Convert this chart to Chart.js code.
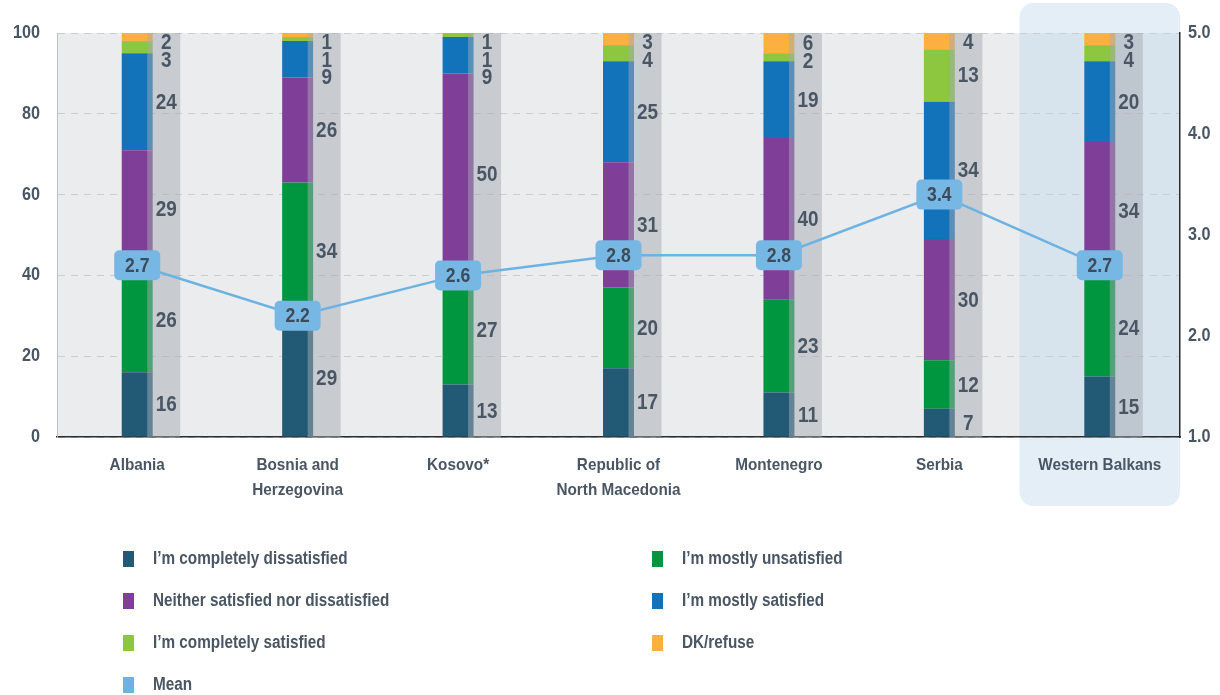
<!DOCTYPE html>
<html>
<head>
<meta charset="utf-8">
<script src="https://cdn.jsdelivr.net/npm/chart.js@4.4.1/dist/chart.umd.min.js"></script>
<style>
  html,body{margin:0;padding:0;background:#fff;}
  #wrap{position:relative;width:1220px;height:695px;}
</style>
</head>
<body>
<div id="wrap"><canvas id="c" width="1220" height="695"></canvas></div>
<script>
const categories = [["Albania"], ["Bosnia and","Herzegovina"], ["Kosovo*"], ["Republic of","North Macedonia"], ["Montenegro"], ["Serbia"], ["Western Balkans"]];
const completelyDissatisfied = [16, 29, 13, 17, 11, 7, 15];
const mostlyUnsatisfied      = [26, 34, 27, 20, 23, 12, 24];
const neitherNor             = [29, 26, 50, 31, 40, 30, 34];
const mostlySatisfied        = [24, 9, 9, 25, 19, 34, 20];
const completelySatisfied    = [3, 1, 1, 4, 2, 13, 4];
const dkRefuse               = [2, 1, 1, 3, 6, 4, 3];
const meanScore              = [2.7, 2.2, 2.6, 2.8, 2.8, 3.4, 2.7];
const seriesNames = ["I\u2019m completely dissatisfied","I\u2019m mostly unsatisfied","Neither satisfied nor dissatisfied","I\u2019m mostly satisfied","I\u2019m completely satisfied","DK/refuse","Mean"];
const percentTicks = [0, 20, 40, 60, 80, 100];
const meanTicks = [1.0, 2.0, 3.0, 4.0, 5.0];

const FONT = "'Liberation Sans', Arial, sans-serif";
const TXT = '#4a5664';
const colors = ['#225a75','#00963f','#7f3f98','#1272ba','#8dc63f','#fbb040','#6db3e2'];

function txt(ctx, s, x, y, size, align, sx, color) {
  ctx.save();
  ctx.font = `bold ${size}px ${FONT}`;
  ctx.fillStyle = color || TXT;
  ctx.textBaseline = 'middle';
  ctx.textAlign = align;
  ctx.translate(x, y);
  ctx.scale(sx, 1);
  ctx.fillText(s, 0, 0);
  ctx.restore();
}

const barSeries = [completelyDissatisfied, mostlyUnsatisfied, neitherNor, mostlySatisfied, completelySatisfied, dkRefuse];
const datasets = barSeries.map((d, i) => ({
  type: 'bar', label: seriesNames[i], data: d, backgroundColor: colors[i],
  yAxisID: 'y', order: 1, barPercentage: 0.193, categoryPercentage: 1, borderWidth: 0
}));
datasets.push({
  type: 'line', label: seriesNames[6], data: meanScore, yAxisID: 'y1', order: 0,
  borderColor: colors[6], borderWidth: 2.5, pointRadius: 0, tension: 0, fill: false
});

const deco = {
  id: 'deco',
  beforeDraw(chart) {
    const {ctx, chartArea: a} = chart;
    const x = chart.scales.x;
    ctx.save();
    ctx.fillStyle = '#fff';
    ctx.fillRect(0, 0, chart.width, chart.height);
    ctx.fillStyle = '#ebecee';
    ctx.fillRect(a.left, a.top, a.right - a.left, a.bottom - a.top);
    const n = categories.length;
    const half = (x.getPixelForValue(1) - x.getPixelForValue(0)) / 2;
    const cx = x.getPixelForValue(n - 1);
    ctx.fillStyle = 'rgba(188,214,236,0.42)';
    ctx.beginPath();
    ctx.roundRect(cx - half, 3, 2 * half, 503, 14);
    ctx.fill();
    ctx.restore();
  },
  beforeDatasetDraw(chart, args) {
    if (args.index !== 6) return;
    const {ctx, chartArea: a} = chart;
    const x = chart.scales.x;
    ctx.save();
    ctx.fillStyle = 'rgba(165,172,180,0.5)';
    for (let i = 0; i < categories.length; i++) {
      const bx = x.getPixelForValue(i);
      ctx.fillRect(bx + 10, a.top, 33, a.bottom - a.top);
    }
    ctx.restore();
  },
  afterDatasetsDraw(chart) {
    const {ctx, chartArea: a} = chart;
    const x = chart.scales.x, y = chart.scales.y, y1 = chart.scales.y1;
    // value labels
    for (let i = 0; i < categories.length; i++) {
      const tx = x.getPixelForValue(i) + 29;
      let prev = a.top + 9 - 17.5;
      for (let d = 5; d >= 0; d--) {
        const el = chart.getDatasetMeta(d).data[i];
        const top = Math.max(el.y, a.top);
        const center = (top + el.base) / 2;
        const yy = Math.max(center, prev + 17.5);
        txt(ctx, String(barSeries[d][i]), tx, yy + 1, 22, 'center', 0.86);
        prev = yy;
      }
    }
    // mean boxes
    const lm = chart.getDatasetMeta(6);
    lm.data.forEach((p, i) => {
      ctx.save();
      ctx.fillStyle = '#77b7e4';
      ctx.beginPath();
      ctx.roundRect(p.x - 23, p.y - 15, 46, 30, 5);
      ctx.fill();
      ctx.restore();
      txt(ctx, meanScore[i].toFixed(1), p.x, p.y + 1, 20, 'center', 0.88, '#3e4b59');
    });
    // axis tick labels
    percentTicks.forEach(v => txt(ctx, String(v), 40, y.getPixelForValue(v), 18, 'right', 0.9));
    meanTicks.forEach(v => txt(ctx, v.toFixed(1), 1188, y1.getPixelForValue(v), 18, 'left', 0.9));
    categories.forEach((lines, i) => {
      const cx = x.getPixelForValue(i);
      lines.forEach((s, k) => txt(ctx, s, cx, 465 + k * 25, 17, 'center', 0.9));
    });
    // legend
    const colX = [123, 652];
    const rowY = [559, 601, 643, 685];
    chart.data.datasets.forEach((ds, i) => {
      const cxl = colX[i % 2], cy = rowY[Math.floor(i / 2)];
      ctx.save();
      ctx.fillStyle = ds.type === 'line' ? ds.borderColor : ds.backgroundColor;
      ctx.fillRect(cxl, cy - 8, 11, 16);
      ctx.restore();
      txt(ctx, ds.label, cxl + 30, cy, 18, 'left', 0.85);
    });
  }
};

new Chart(document.getElementById('c'), {
  data: { labels: categories, datasets },
  options: {
    responsive: false,
    animation: false,
    layout: { padding: { top: 33, left: 0, right: 0, bottom: 175 } },
    plugins: { legend: { display: false }, tooltip: { enabled: false } },
    scales: {
      x: {
        stacked: true,
        grid: { display: false, drawTicks: false },
        border: { display: true, color: '#2b2b2b', width: 1.5 },
        ticks: { display: false },
        afterFit(s) { s.height = 83; }
      },
      y: {
        stacked: true, position: 'left', min: 0, max: 100,
        afterBuildTicks(s) { s.ticks = percentTicks.map(v => ({ value: v })); },
        grid: { color: '#cacccf', drawTicks: false, lineWidth: 1 },
        border: { display: true, color: '#bdbfc2', width: 1, dash: [7, 6] },
        ticks: { display: false },
        afterFit(s) { s.width = 57; }
      },
      y1: {
        position: 'right', min: 1, max: 5,
        afterBuildTicks(s) { s.ticks = meanTicks.map(v => ({ value: v })); },
        grid: { display: false, drawTicks: false },
        border: { display: true, color: '#2b2b2b', width: 1.5 },
        ticks: { display: false },
        afterFit(s) { s.width = 40; }
      }
    }
  },
  plugins: [deco]
});
</script>
</body>
</html>
